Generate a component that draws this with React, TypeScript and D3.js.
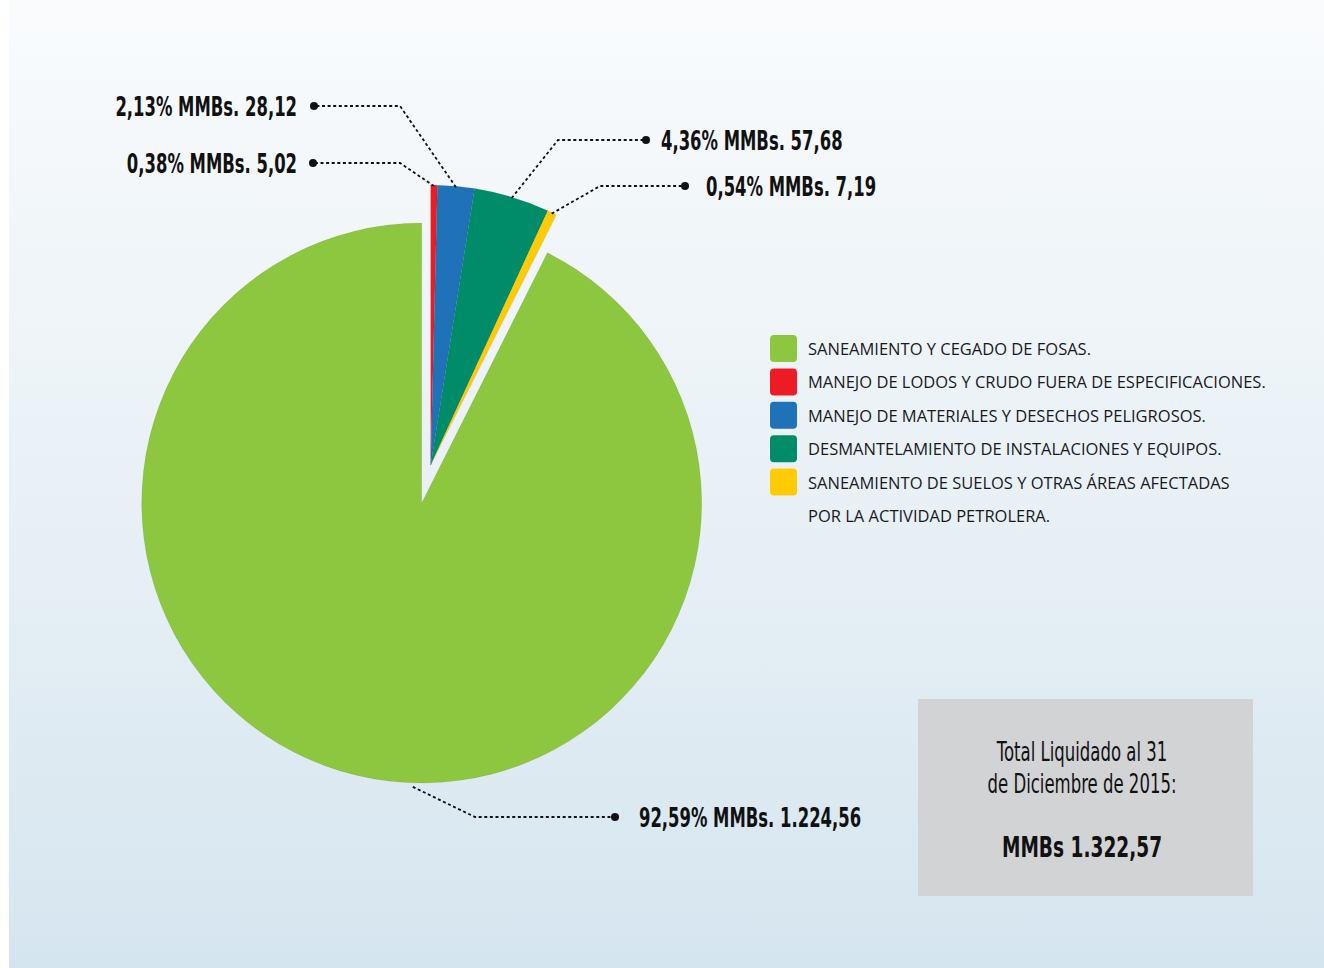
import * as d3 from "d3";
import { useEffect, useRef } from "react";

// data, legend order
const categories = [
    "SANEAMIENTO Y CEGADO DE FOSAS.",
    "MANEJO DE LODOS Y CRUDO FUERA DE ESPECIFICACIONES.",
    "MANEJO DE MATERIALES Y DESECHOS PELIGROSOS.",
    "DESMANTELAMIENTO DE INSTALACIONES Y EQUIPOS.",
    "SANEAMIENTO DE SUELOS Y OTRAS ÁREAS AFECTADAS|POR LA ACTIVIDAD PETROLERA.",
];
const values = [1224.56, 5.02, 28.12, 57.68, 7.19];
const colors = ["#8dc63f", "#ed1c24", "#1f71b8", "#008c68", "#ffcb05"];

const totalTitle = ["Total Liquidado al 31", "de Diciembre de 2015:"];

// label placement: dot position, elbow x, text x, side
const labelLayout = [
    { dotX: 615, dotY: 817, elbowX: 475, textX: 639, side: "right", anchorDeg: 181.8 },
    { dotX: 313, dotY: 163, elbowX: 400, textX: 297, side: "left" },
    { dotX: 314, dotY: 106, elbowX: 400, textX: 297, side: "left" },
    { dotX: 646, dotY: 140, elbowX: 558, textX: 661, side: "right" },
    { dotX: 685, dotY: 186, elbowX: 600, textX: 706, side: "right" },
];

const esLocale = d3.formatLocale({
    decimal: ",",
    thousands: ".",
    grouping: [3],
    currency: ["", ""],
});
const fmtNum = esLocale.format(",.2f");

// no condensed font installed, so squeeze DejaVu horizontally
const condFont = "'DejaVu Sans', sans-serif";

function condText(parent, x, y, anchor, text, size, weight, k) {
    parent.append("g")
        .attr("transform", `translate(${x}, ${y}) scale(${k}, 1)`)
        .append("text")
        .attr("text-anchor", anchor)
        .style("font-family", condFont)
        .style("font-weight", weight)
        .style("font-size", size + "px")
        .style("fill", "#111")
        .text(text);
}

function drawChart(svgEl: SVGSVGElement) {
    const svg = d3.select(svgEl);
    svg.selectAll("*").remove();

    const W = 1324, H = 968;
    const cx = 421.7, cy = 503, R = 280;

    const defs = svg.append("defs");
    const grad = defs.append("linearGradient")
        .attr("id", "bg")
        .attr("x1", 0).attr("y1", 0).attr("x2", 0).attr("y2", 1);
    grad.append("stop").attr("offset", "0%").attr("stop-color", "#f9fbfd");
    grad.append("stop").attr("offset", "50%").attr("stop-color", "#e9f1f6");
    grad.append("stop").attr("offset", "100%").attr("stop-color", "#d5e5ef");

    svg.append("rect").attr("width", W).attr("height", H).attr("fill", "#ffffff");
    svg.append("rect")
        .attr("x", 9).attr("y", 0)
        .attr("width", W - 9).attr("height", H)
        .attr("fill", "url(#bg)");

    const total = d3.sum(values);
    const greenFrac = values[0] / total;

    const pie = d3.pie<number>()
        .sort(null)
        .value(d => d)
        .startAngle(-greenFrac * 2 * Math.PI)
        .endAngle(2 * Math.PI - greenFrac * 2 * Math.PI);

    const arcs = pie(values);
    const arc = d3.arc<d3.PieArcDatum<number>>().innerRadius(0).outerRadius(R);

    // small slices are pulled out together
    const small = arcs.slice(1);
    const groupMid = (small[0].startAngle + small[small.length - 1].endAngle) / 2;
    const explode = 39;
    const offX = explode * Math.sin(groupMid);
    const offY = -explode * Math.cos(groupMid);

    const g = svg.append("g").attr("transform", `translate(${cx}, ${cy})`);

    g.selectAll("path.slice")
        .data(arcs)
        .enter()
        .append("path")
        .attr("class", "slice")
        .attr("d", arc)
        .attr("transform", (d, i) => i === 0 ? null : `translate(${offX}, ${offY})`)
        .style("fill", (d, i) => colors[i])
        .style("stroke", "rgba(0,0,0,0.12)")
        .style("stroke-width", 0.5);

    // leader lines + labels
    arcs.forEach((d, i) => {
        const lay = labelLayout[i];
        const ang = lay.anchorDeg !== undefined
            ? lay.anchorDeg * Math.PI / 180
            : (d.startAngle + d.endAngle) / 2;
        const rr = i === 0 ? R + 4 : R - 1;
        const ox = i === 0 ? 0 : offX;
        const oy = i === 0 ? 0 : offY;
        const ax = cx + ox + rr * Math.sin(ang);
        const ay = cy + oy - rr * Math.cos(ang);

        svg.append("path")
            .attr("d", `M${ax},${ay}L${lay.elbowX},${lay.dotY}L${lay.dotX},${lay.dotY}`)
            .style("fill", "none")
            .style("stroke", "#111")
            .style("stroke-width", 1.8)
            .style("stroke-dasharray", "3,2.6");

        svg.append("circle")
            .attr("cx", lay.dotX)
            .attr("cy", lay.dotY)
            .attr("r", 4)
            .style("fill", "#111");

        const pct = esLocale.format(".2f")(values[i] / total * 100) + "%";
        const label = `${pct} MMBs. ${fmtNum(values[i])}`;

        condText(svg, lay.textX, lay.dotY + 9.5,
            lay.side === "left" ? "end" : "start",
            label, 26, "bold", 0.632);
    });

    // legend
    const legend = svg.append("g").attr("transform", "translate(770, 335)");
    const rowH = 33.4;
    categories.forEach((c, i) => {
        legend.append("rect")
            .attr("x", 0)
            .attr("y", i * rowH)
            .attr("width", 27)
            .attr("height", 27)
            .attr("rx", 4)
            .style("fill", colors[i]);

        c.split("|").forEach((line, j) => {
            legend.append("text")
                .attr("x", 38)
                .attr("y", (i + j) * rowH + 20)
                .style("font-family", "'Open Sans', sans-serif")
                .style("font-size", "16.5px")
                .style("fill", "#1a1a1a")
                .text(line);
        });
    });

    // total box
    const box = svg.append("g").attr("transform", "translate(918, 699)");
    box.append("rect")
        .attr("width", 335)
        .attr("height", 197)
        .style("fill", "#d1d3d5");

    totalTitle.forEach((t, i) => {
        condText(box, 164, 62 + i * 32, "middle", t, 27, "normal", 0.612);
    });

    condText(box, 164, 158, "middle", `MMBs ${fmtNum(total)}`, 28, "bold", 0.663);
}

function App() {
    const svgRef = useRef<SVGSVGElement>(null);

    useEffect(() => {
        if (svgRef.current) drawChart(svgRef.current);
    }, []);

    return (
        <div style={{ position: "absolute", left: 0, top: 0 }}>
            <svg ref={svgRef} width={1324} height={968} style={{ display: "block" }}></svg>
        </div>
    );
}

export default App;
